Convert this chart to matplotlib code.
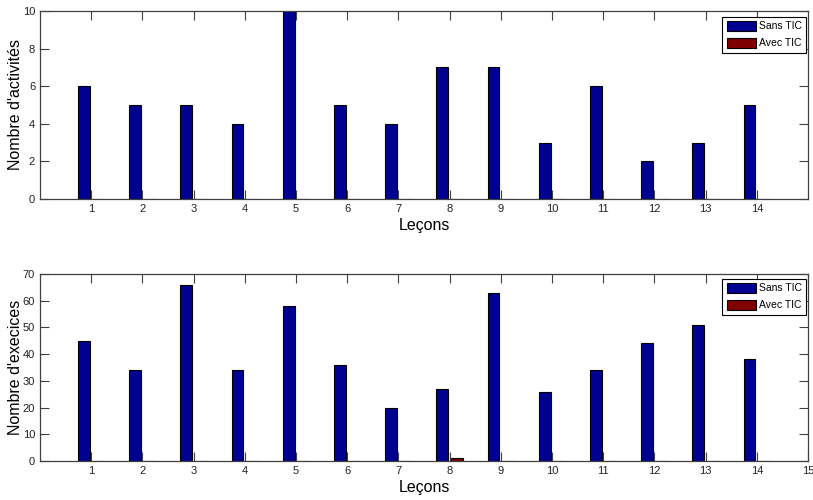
import matplotlib
matplotlib.use("Agg")
import matplotlib.pyplot as plt
from matplotlib import font_manager
import numpy as np

lessons = list(range(1, 15))
act_sans = [6, 5, 5, 4, 10, 5, 4, 7, 7, 3, 6, 2, 3, 5]
act_avec = [0, 0, 0, 0, 0, 0, 0, 0, 0, 0, 0, 0, 0, 0]
ex_sans = [45, 34, 66, 34, 58, 36, 20, 27, 63, 26, 34, 44, 51, 38]
ex_avec = [0, 0, 0, 0, 0, 0, 0, 1, 0, 0, 0, 0, 0, 0]
top_xticks = list(range(1, 15))
bot_xticks = list(range(1, 16))
top_yticks = [0, 2, 4, 6, 8, 10]
bot_yticks = [0, 10, 20, 30, 40, 50, 60, 70]
series_names = ["Sans TIC", "Avec TIC"]
ylabels = ["Nombre d'activités", "Nombre d'execices"]
xlabel = "Leçons"

plt.rcParams['font.family'] = ['Liberation Sans', 'DejaVu Sans']
names = {f.name for f in font_manager.fontManager.ttflist}
TICKFONT = 'Liberation Sans Narrow' if 'Liberation Sans Narrow' in names else 'Liberation Sans'

BLUE = '#000090'
RED = '#800000'
SPINE = '#404040'

fig = plt.figure(figsize=(8.13, 5.0), dpi=100)
W, H = 813, 500

def mk_axes(left, top, right, bottom):
    return fig.add_axes([left / W, 1 - bottom / H, (right - left) / W, (bottom - top) / H])

ax1 = mk_axes(40, 11, 808, 199)
ax2 = mk_axes(40, 274, 808, 461)

x = np.array(lessons, dtype=float)
off = 0.143
bw = 0.229

def draw(ax, sans, avec, ylim, yticks, xticks, ylab, legtop):
    ax.bar(x - off, sans, width=bw, color=BLUE, edgecolor='black', linewidth=0.8, label=series_names[0])
    ax.bar(x + off, avec, width=bw, color=RED, edgecolor='black', linewidth=0.8, label=series_names[1])
    ax.set_xlim(0, 15)
    ax.set_ylim(*ylim)
    ax.set_xticks(xticks)
    ax.set_yticks(yticks)
    ax.tick_params(direction='in', length=6.5, width=0.8, colors=SPINE, labelcolor='#222222',
                   labelsize=8, top=True, right=True, pad=3.5)
    for lab in ax.get_xticklabels() + ax.get_yticklabels():
        lab.set_fontfamily([TICKFONT, 'DejaVu Sans'])
    for s in ax.spines.values():
        s.set_color(SPINE)
        s.set_linewidth(0.9)
    wpx = ax.get_position().width * W
    hpx = ax.get_position().height * H
    ax.set_ylabel(ylab, fontsize=11.5)
    ax.yaxis.set_label_coords(-17 / wpx, 0.5)
    ax.set_xlabel(xlabel, fontsize=11.5, labelpad=3)
    leg = ax.legend(loc='upper right', bbox_to_anchor=(1 - 2 / wpx, 1 - legtop / hpx),
                    borderaxespad=0, fontsize=7, frameon=True, fancybox=False,
                    edgecolor='black', framealpha=1, handlelength=3.0, handleheight=1.15,
                    handletextpad=0.3, labelspacing=0.7, borderpad=0.45)
    leg.get_frame().set_linewidth(0.8)
    for t in leg.get_texts():
        t.set_fontfamily([TICKFONT, 'DejaVu Sans'])
        t.set_fontsize(7.5)

draw(ax1, act_sans, act_avec, (0, 10), top_yticks, top_xticks, ylabels[0], 6)
draw(ax2, ex_sans, ex_avec, (0, 70), bot_yticks, bot_xticks, ylabels[1], 5)

fig.savefig('out.png', dpi=100)
